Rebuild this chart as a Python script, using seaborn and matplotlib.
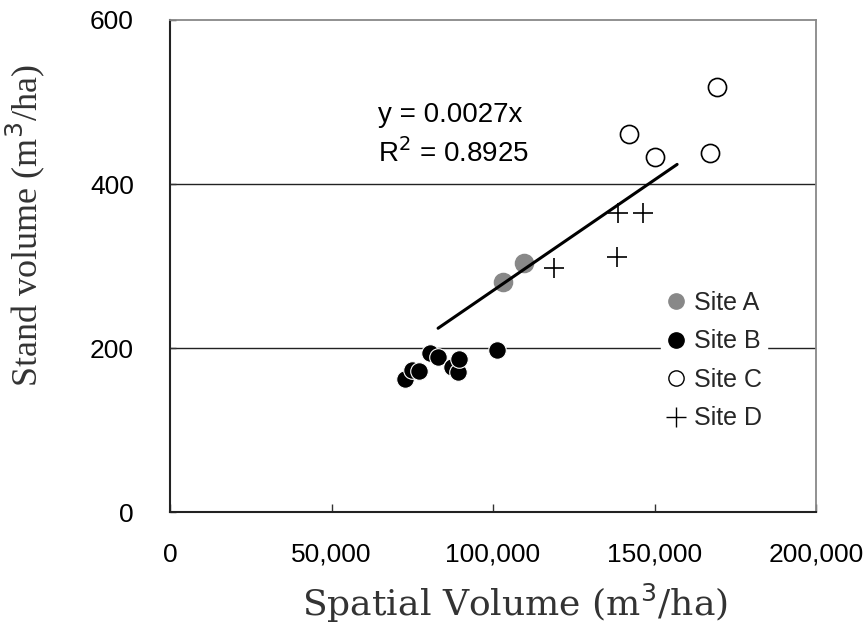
import numpy as np
import pandas as pd
import matplotlib
matplotlib.use("Agg")
import matplotlib.pyplot as plt
import seaborn as sns
from matplotlib.ticker import FuncFormatter
from matplotlib.lines import Line2D

# Data
site_a_x = [103100, 109600]
site_a_y = [281, 304]
site_b_x = [72800, 74900, 77100, 80500, 83000, 87300, 89200, 89500, 101200]
site_b_y = [162, 173, 172, 194, 189, 177, 171, 187, 198]
site_c_x = [142100, 150200, 167200, 169300]
site_c_y = [461, 433, 438, 518]
site_d_x = [118900, 138400, 138700, 146400]
site_d_y = [298, 311, 365, 365]

slope = 0.0027
r2 = 0.8925
trend_x = [83000, 157000]

x_ticks = [0, 50000, 100000, 150000, 200000]
y_ticks = [0, 200, 400, 600]

sns.set_theme(style="white")
plt.rcParams["font.family"] = ["Liberation Sans", "DejaVu Sans"]

df = pd.DataFrame({
    "x": site_a_x + site_b_x + site_c_x + site_d_x,
    "y": site_a_y + site_b_y + site_c_y + site_d_y,
    "site": ["Site A"] * len(site_a_x) + ["Site B"] * len(site_b_x)
            + ["Site C"] * len(site_c_x) + ["Site D"] * len(site_d_x),
})

fig = plt.figure(figsize=(8.64, 6.32), dpi=100)
ax = fig.add_axes([170 / 864, 1 - 512 / 632, 646 / 864, 492 / 632])

for yv in [200, 400]:
    ax.axhline(yv, color="#222222", lw=1.0, zorder=0)

styles = {
    "Site A": dict(marker="o", s=170, color="#888888", edgecolor="#888888"),
    "Site B": dict(marker="o", s=160, color="black", edgecolor="white", linewidth=0.8),
    "Site C": dict(marker="o", s=170, facecolor="white", edgecolor="black", linewidth=1.2),
    "Site D": dict(marker="+", s=200, color="black", linewidth=1.2),
}
for site, st in styles.items():
    sub = df[df["site"] == site]
    sns.scatterplot(data=sub, x="x", y="y", ax=ax, legend=False, zorder=3, **st)

tx = np.array(trend_x, dtype=float)
sns.lineplot(x=tx, y=slope * tx, ax=ax, color="black", lw=2.2, zorder=4)

ax.text(0.322, 0.806, "y = 0.0027x", transform=ax.transAxes, fontsize=20,
        ha="left", va="center", color="black")
ax.text(0.322, 0.73, "R$^2$ = %.4f" % r2, transform=ax.transAxes, fontsize=20,
        ha="left", va="center", color="black")

ax.set_xlim(0, 200000)
ax.set_ylim(0, 600)
ax.set_xticks(x_ticks)
ax.set_yticks(y_ticks)
ax.xaxis.set_major_formatter(FuncFormatter(lambda v, p: "{:,}".format(int(v))))
ax.tick_params(axis="x", direction="in", length=6, width=1, color="#333333",
               pad=22, labelsize=19, labelcolor="black")
ax.tick_params(axis="y", direction="in", length=4, width=1, color="#333333",
               pad=26, labelsize=19, labelcolor="black")
ax.tick_params(bottom=True, left=True)

for side in ["left", "bottom"]:
    ax.spines[side].set_color("#222222")
    ax.spines[side].set_linewidth(1.5)
for side in ["top", "right"]:
    ax.spines[side].set_color("#888888")
    ax.spines[side].set_linewidth(1.3)

ax.set_xlabel("Spatial Volume (m$^3$/ha)", family="DejaVu Serif", fontsize=26,
              color="#333333")
ax.set_ylabel("Stand volume (m$^3$/ha)", family="Liberation Serif", fontsize=26,
              color="#333333")
ax.xaxis.set_label_coords(0.534, -0.142)
ax.yaxis.set_label_coords(-0.19, 0.583)

handles = [
    Line2D([], [], marker="o", ls="", color="#888888", markersize=11),
    Line2D([], [], marker="o", ls="", color="black", markersize=11),
    Line2D([], [], marker="o", ls="", markerfacecolor="white",
           markeredgecolor="black", markersize=11),
    Line2D([], [], marker="+", ls="", color="black", markersize=14,
           markeredgewidth=1.0),
]
leg = ax.legend(handles, ["Site A", "Site B", "Site C", "Site D"],
                loc="upper left", bbox_to_anchor=(0.74, 0.485),
                frameon=True, fontsize=18, handlelength=0.8,
                handletextpad=0.35, labelspacing=0.58, borderpad=0.2)
leg.get_frame().set_edgecolor("white")
leg.get_frame().set_facecolor("white")
leg.get_frame().set_alpha(1.0)
leg.set_zorder(2)

fig.savefig("out.png", dpi=100)
